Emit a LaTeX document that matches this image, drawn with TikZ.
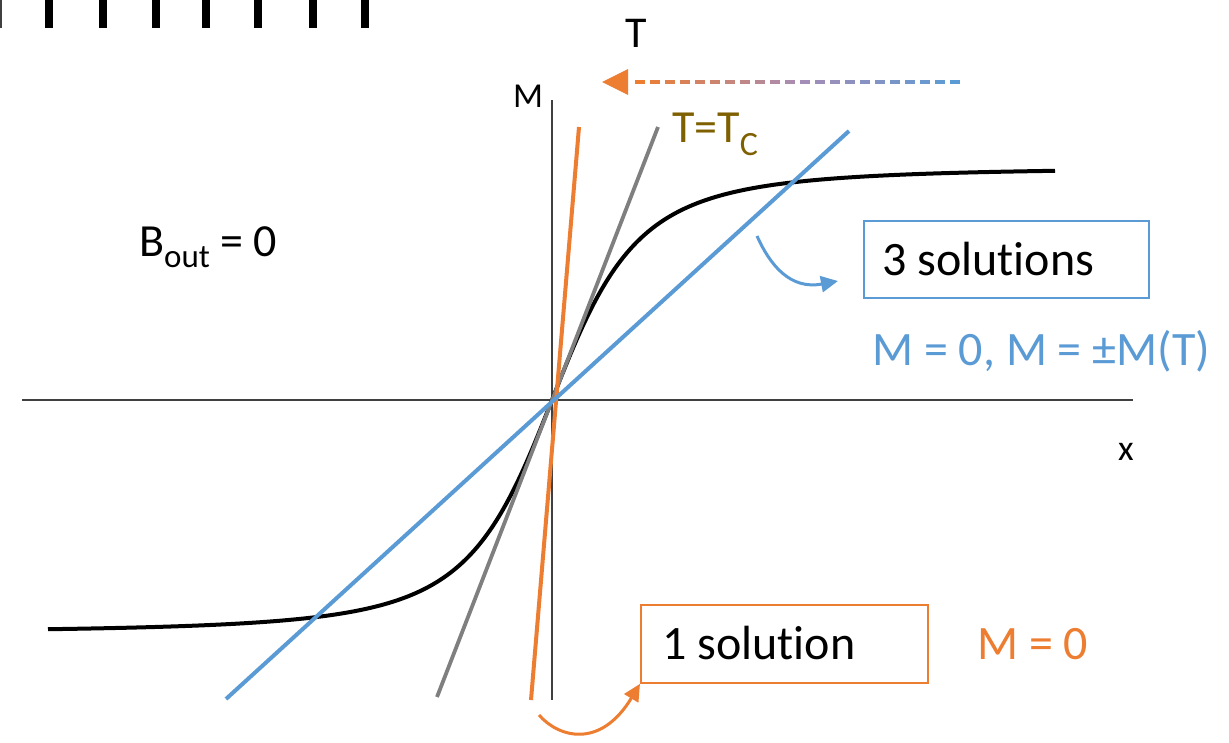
\documentclass[tikz,border=0pt]{standalone}
\usepackage{fontspec}
\setmainfont{Carlito}[Ligatures=NoCommon]
\usetikzlibrary{arrows.meta,calc}
\definecolor{cblue}{HTML}{5B9BD5}
\definecolor{corange}{HTML}{ED7D31}
\definecolor{cgray}{HTML}{7F7F7F}
\definecolor{caxis}{HTML}{404040}
\definecolor{colive}{HTML}{7F6000}
\definecolor{cpurple}{RGB}{168,140,180}
\begin{document}
\begin{tikzpicture}[x=1pt,y=-1pt,
  txt/.style={inner sep=0pt, anchor=base west, font=\fontsize{48}{58}\selectfont},
  axisline/.style={draw=caxis, line width=1.6pt},
  solbox/.style={line width=1.8pt, minimum width=#1, minimum height=78pt, inner sep=0pt, anchor=north west},
  curvearrow/.style={line width=3pt, -{Triangle[length=17pt,width=16pt]}},
  tick/.style={fill=black}]
\useasboundingbox (0,0) rectangle (1229,742);
\fill[white] (0,0) rectangle (1229,742);

% top ticks
\fill[caxis] (0,0) rectangle (1.5,28);
\foreach \x in {49,103,156,206,258,313,365}
  \fill[tick] (\x-4,0) rectangle (\x+4,28);

% axes
\coordinate (xl) at (22,400);
\coordinate (xr) at (1133,400);
\coordinate (yt) at (552,100);
\coordinate (yb) at (552,700);
\draw[axisline] (xl) -- (xr);
\draw[axisline] (yb) -- (yt);

% magnetisation curve
\draw[line width=4pt, black] plot[domain=-504:503, samples=241, smooth]
  ({552+\x}, {400-233*(\x/92)/sqrt(1+(\x/92)^2)});

% straight lines
\coordinate (g1) at (437,697);
\coordinate (g2) at (658,127);
\coordinate (o1) at (531,700);
\coordinate (o2) at (579,127);
\coordinate (b1) at (226,699);
\coordinate (b2) at (849,131);
\draw[cgray, line width=3.8pt] (g1) -- (g2);
\draw[corange, line width=4pt] (o1) -- (o2);
\draw[cblue, line width=4pt] (b1) -- (b2);

% labels
\node[txt, font=\fontsize{44}{52}\selectfont] (tlab) at (625,47) {T};
\node[txt, font=\fontsize{46}{54}\selectfont, text=colive] (tc) at (672,142)
  {T=T\raisebox{-13pt}{\fontsize{34}{34}\selectfont C}};
\node[txt, font=\fontsize{35}{42}\selectfont] (mlab) at (513,107) {M};
\node[txt, font=\fontsize{36}{42}\selectfont] (xlab) at (1118,460) {x};
\node[txt, font=\fontsize{46}{54}\selectfont] (bout) at (139,256)
  {B\raisebox{-11pt}{\fontsize{33}{33}\selectfont out} = 0};

% temperature arrow (gradient dashed)
\coordinate (tS) at (960,82);
\coordinate (tE) at (602,82);
\foreach \i in {0,...,21}{
  \pgfmathsetmacro\mixv{100*\i/21}
  \ifdim\mixv pt<50pt
    \pgfmathsetmacro\mixw{2*\mixv}
    \draw[line width=4pt, color=cpurple!\mixw!cblue]
      ($(tS)+(-\i*15,0)$) -- ($(tS)+(-\i*15-10,0)$);
  \else
    \pgfmathsetmacro\mixw{2*\mixv-100}
    \draw[line width=4pt, color=corange!\mixw!cpurple]
      ($(tS)+(-\i*15,0)$) -- ($(tS)+(-\i*15-10,0)$);
  \fi
}
\fill[corange] (tE) -- ++(26,-13) -- ++(0,26) -- cycle;

% boxes
\node[solbox=285pt, draw=cblue, minimum height=77pt] (sol3) at (863,220) {};
\node[txt] (sol3t) at (882,275) {3 solutions};
\node[txt, text=cblue] (sol3m) at (872,365) {M = 0, M = ±M(T)};

\node[solbox=287pt, draw=corange] (sol1) at (640,604) {};
\node[txt] (sol1t) at (662,659) {1 solution};
\node[txt, text=corange] (sol1m) at (977,659) {M = 0};

% curved arrows
\coordinate (a3s) at (757,236);
\coordinate (a3e) at (838,281);
\draw[cblue, curvearrow] (a3s) .. controls (770,265) and (790,290) .. (a3e);
\coordinate (a1s) at (539,715);
\draw[corange, curvearrow] (a1s) .. controls (558,737) and (600,750) .. (sol1.south west);
\end{tikzpicture}
\end{document}
